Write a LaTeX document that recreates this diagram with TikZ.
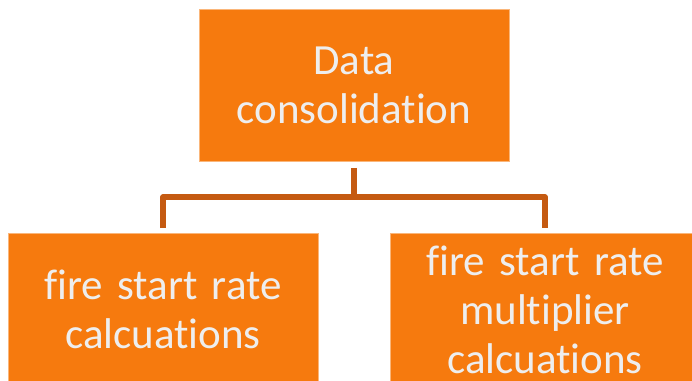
\documentclass[tikz,border=0pt]{standalone}
\usepackage{fontspec}
\setmainfont{Carlito}[Ligatures={NoCommon}]
\usepackage{tikz}
\definecolor{boxorange}{RGB}{246,122,14}
\definecolor{linkbrown}{RGB}{197,90,17}
\definecolor{boxtext}{RGB}{238,238,238}
\tikzset{
    task/.style={fill=boxorange, draw=boxorange!55!white, line width=0.6pt,
        minimum width=310pt, minimum height=152pt, text width=300pt, align=center,
        text=boxtext, font=\fontsize{43}{49}\selectfont, inner sep=0pt},
    link/.style={draw=linkbrown, line width=5.7pt, line join=round}
}

\begin{document}
\begin{tikzpicture}[x=1pt, y=1pt]
        \useasboundingbox (0,0) rectangle (692,380);
        \clip (0,0) rectangle (692,380);
        \node [task] (cons) at (354, 294.5) {Data\\consolidation};
        \node [task] (rate) at (163, 70.5) {fire start rate\\calcuations};
        \node [task] (mult) at (545, 70.5) {fire start rate\\multiplier\\calcuations};
        \coordinate (fork) at (354, 183);
        \draw [link, shorten <=6pt] (cons.south) -- (fork);
        \draw [link, shorten <=5pt, shorten >=5pt] (rate.north) |- (fork) -| (mult.north);
    \end{tikzpicture}
\end{document}
